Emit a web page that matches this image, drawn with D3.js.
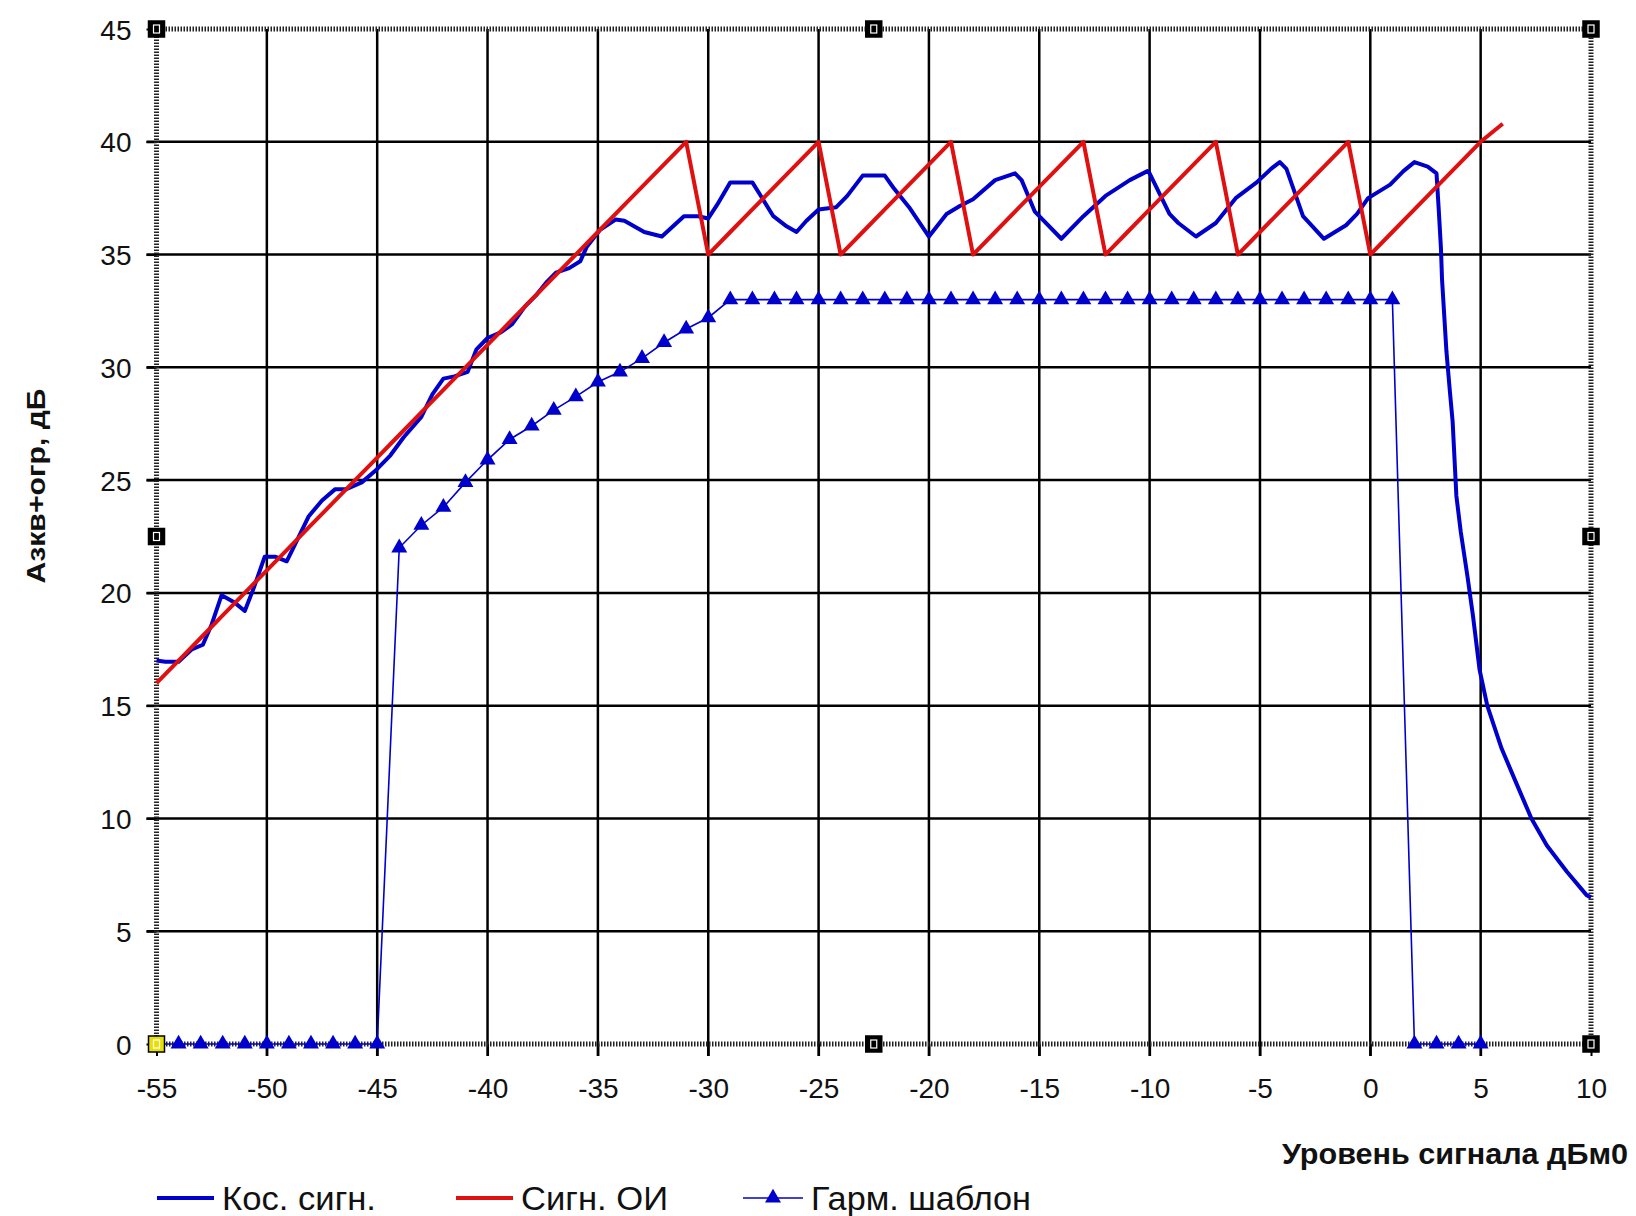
<!DOCTYPE html>
<html>
<head>
<meta charset="utf-8">
<script src="https://cdn.jsdelivr.net/npm/d3@7"></script>
<style>
  html, body { margin: 0; padding: 0; background: #fff; }
  svg { display: block; }
  text { font-family: "Liberation Sans", Arial, sans-serif; }
</style>
</head>
<body>
<svg id="chart" width="1636" height="1216"></svg>
<script>
// ---------- data ----------
const xTicks = [-55, -50, -45, -40, -35, -30, -25, -20, -15, -10, -5, 0, 5, 10];
const yTicks = [0, 5, 10, 15, 20, 25, 30, 35, 40, 45];

const seriesNames = ["Кос. сигн.", "Сигн. ОИ", "Гарм. шаблон"];
const xTitle = "Уровень сигнала дБм0";
const yTitle = "Азкв+огр, дБ";

// "Кос. сигн." (thick blue)
const kosX = [-55, -54.6, -54, -53.4, -52.9, -52.5, -52.05, -51.5, -51, -50.6, -50.1, -49.6, -49.1, -48.6, -48.1, -47.5, -46.9, -46.4, -45.7, -45.1,
  -44.4, -43.8, -43, -42.5, -42, -41.5, -40.9, -40.5, -40, -39.4, -38.9, -38.3, -37.8, -37.3, -36.9, -36.3, -35.8, -35.5, -34.9, -34.2,
  -33.8, -32.9, -32.1, -31.1, -30.45, -30, -29.6, -29, -28, -27.65, -27.05, -26.45, -26, -25.55, -25, -24.2, -23.7, -23, -22, -21.6,
  -20.9, -20, -19.2, -18.6, -18, -17, -16.1, -15.8, -15.2, -14, -13, -12, -10.9, -10.1, -10, -9.1, -8.7, -7.9, -7, -6.1,
  -5.15, -4.5, -4.1, -3.8, -3.05, -2.1, -1.1, -0.6, -0.1, 0.9, 1.5, 2, 2.6, 3, 3.1, 3.2, 3.25, 3.45, 3.6, 3.73,
  3.9, 4.1, 4.4, 4.65, 4.95, 5.3, 5.95, 6.6, 7.3, 8, 8.9, 9.8, 10];
const kosY = [17.0, 16.95, 16.95, 17.5, 17.7, 18.6, 19.9, 19.6, 19.2, 20.2, 21.6, 21.6, 21.4, 22.4, 23.4, 24.1, 24.6, 24.6, 24.9, 25.4,
  26.1, 26.9, 27.8, 28.8, 29.5, 29.6, 29.8, 30.8, 31.3, 31.55, 31.9, 32.7, 33.2, 33.8, 34.2, 34.4, 34.7, 35.35, 36.1, 36.55,
  36.5, 36.0, 35.8, 36.7, 36.7, 36.6, 37.2, 38.2, 38.2, 37.65, 36.7, 36.25, 36.0, 36.5, 37.0, 37.1, 37.6, 38.5, 38.5, 37.95,
  37.1, 35.8, 36.8, 37.15, 37.45, 38.3, 38.6, 38.3, 36.9, 35.7, 36.7, 37.6, 38.3, 38.7, 38.6, 36.8, 36.4, 35.8, 36.4, 37.5,
  38.2, 38.8, 39.1, 38.8, 36.7, 35.7, 36.3, 36.8, 37.5, 38.1, 38.7, 39.1, 38.9, 38.6, 37.0, 35.3, 33.9, 30.7, 29.0, 27.6,
  24.3, 22.7, 20.75, 19.0, 16.6, 15.0, 13.1, 11.6, 10.0, 8.8, 7.65, 6.6, 6.5];

// "Сигн. ОИ" (red sawtooth)
const oiX = [-55, -54, -53, -52, -51, -50, -49, -48, -47, -46, -45, -44, -43, -42, -41, -40, -39, -38, -37, -36, -35, -34, -33, -32, -31,
  -30, -29, -28, -27, -26, -25, -24, -23, -22, -21, -20, -19, -18, -17, -16, -15, -14, -13, -12, -11, -10, -9, -8, -7,
  -6, -5, -4, -3, -2, -1, 0, 1, 2, 3, 4, 5, 6];
const oiY = [16, 17, 18, 19, 20, 21, 22, 23, 24, 25, 26, 27, 28, 29, 30, 31, 32, 33, 34, 35, 36, 37, 38, 39, 40,
  35, 36, 37, 38, 39, 40, 35, 36, 37, 38, 39, 40, 35, 36, 37, 38, 39, 40, 35, 36, 37, 38, 39, 40,
  35, 36, 37, 38, 39, 40, 35, 36, 37, 38, 39, 40, 40.8];

// "Гарм. шаблон" (thin blue with triangles)
const harmX = [-55, -54, -53, -52, -51, -50, -49, -48, -47, -46, -45, -44, -43, -42, -41, -40, -39, -38, -37, -36, -35, -34, -33, -32, -31, -30,
  -29, -28, -27, -26, -25, -24, -23, -22, -21, -20, -19, -18, -17, -16, -15, -14, -13, -12, -11, -10, -9, -8, -7, -6, -5, -4, -3, -2, -1, 0, 1,
  2, 3, 4, 5];
const harmY = [0, 0, 0, 0, 0, 0, 0, 0, 0, 0, 0, 22, 23, 23.8, 24.9, 25.9, 26.8, 27.4, 28.1, 28.7, 29.35, 29.8, 30.4, 31.1, 31.7, 32.2,
  33, 33, 33, 33, 33, 33, 33, 33, 33, 33, 33, 33, 33, 33, 33, 33, 33, 33, 33, 33, 33, 33, 33, 33, 33, 33, 33, 33, 33, 33, 33,
  0, 0, 0, 0];

// ---------- layout ----------
const L = 156.5, R = 1591, T = 29, B = 1044;
const BLUE = "#0000cc", RED = "#e01010";

const svg = d3.select("#chart");
const x = d3.scaleLinear().domain([-55, 10]).range([L, R]);
const y = d3.scaleLinear().domain([0, 45]).range([B, T]);

// grid
const grid = svg.append("g");
grid.selectAll("line.vx").data(xTicks.filter(d => d > -55 && d < 10)).enter().append("line")
  .attr("x1", d => x(d)).attr("x2", d => x(d)).attr("y1", T).attr("y2", B + 12)
  .attr("stroke", "#000").attr("stroke-width", 2.5);
grid.selectAll("line.hy").data(yTicks.filter(d => d > 0 && d < 45)).enter().append("line")
  .attr("x1", L - 10).attr("x2", R).attr("y1", d => y(d)).attr("y2", d => y(d))
  .attr("stroke", "#000").attr("stroke-width", 2.5);

// axes (ticks on frame edges)
const fmt = d => String(d);
const yAxis = d3.axisLeft(y).tickValues(yTicks).tickSize(10).tickPadding(15).tickFormat(fmt);
const gy = svg.append("g").attr("transform", `translate(${L},0)`).call(yAxis);
gy.select(".domain").remove();
gy.selectAll("line").attr("stroke", "#000").attr("stroke-width", 2);
gy.selectAll("text").attr("font-size", 28).attr("fill", "#111").attr("dy", "0.36em");

const xAxis = d3.axisBottom(x).tickValues(xTicks).tickSize(12).tickPadding(22).tickFormat(fmt);
const gx = svg.append("g").attr("transform", `translate(0,${B})`).call(xAxis);
gx.select(".domain").remove();
gx.selectAll("line").attr("stroke", "#000").attr("stroke-width", 2);
gx.selectAll("text").attr("font-size", 28).attr("fill", "#111");

// hatched frame
svg.append("rect").attr("x", L).attr("y", T).attr("width", R - L).attr("height", B - T)
  .attr("fill", "none").attr("stroke", "#222").attr("stroke-width", 5)
  .attr("stroke-dasharray", "1.5 1.5");

// series
const line = d3.line().x(d => x(d[0])).y(d => y(d[1]));
const kos = kosX.map((v, i) => [v, kosY[i]]);
const oi = oiX.map((v, i) => [v, oiY[i]]);
const harm = harmX.map((v, i) => [v, harmY[i]]);

svg.append("path").attr("d", line(harm)).attr("fill", "none").attr("stroke", BLUE).attr("stroke-width", 1.6);
svg.selectAll("path.tri").data(harm).enter().append("path")
  .attr("d", d3.symbol().type(d3.symbolTriangle).size(110))
  .attr("transform", d => `translate(${x(d[0])},${y(d[1])})`)
  .attr("fill", BLUE);
svg.append("path").attr("d", line(kos)).attr("fill", "none").attr("stroke", BLUE)
  .attr("stroke-width", 4).attr("stroke-linejoin", "round");
svg.append("path").attr("d", line(oi)).attr("fill", "none").attr("stroke", RED)
  .attr("stroke-width", 4).attr("stroke-linejoin", "round");

// selection handles
const handles = [[L, T], [(L + R) / 2, T], [R, T], [L, (T + B) / 2], [R, (T + B) / 2], [L, B], [(L + R) / 2, B], [R, B]];
svg.selectAll("rect.h").data(handles).enter().append("rect")
  .attr("x", d => d[0] - 8).attr("y", d => d[1] - 8).attr("width", 16).attr("height", 16)
  .attr("fill", (d, i) => i === 5 ? "#e8e000" : "#000").attr("stroke", "#000").attr("stroke-width", 1.5);
svg.selectAll("rect.hi").data(handles).enter().append("rect")
  .attr("x", d => d[0] - 3).attr("y", d => d[1] - 4).attr("width", 6).attr("height", 8)
  .attr("fill", "none").attr("stroke", "#fff").attr("stroke-width", 1.2);

// axis titles
svg.append("text").attr("x", 1628).attr("y", 1164).attr("text-anchor", "end")
  .attr("font-size", 30).attr("font-weight", "bold").attr("fill", "#111")
  .attr("textLength", 346).attr("lengthAdjust", "spacingAndGlyphs").text(xTitle);
svg.append("text").attr("transform", "translate(45,486) rotate(-90)").attr("text-anchor", "middle")
  .attr("font-size", 26).attr("font-weight", "bold").attr("fill", "#111")
  .attr("textLength", 195).attr("lengthAdjust", "spacingAndGlyphs").text(yTitle);

// legend
const legend = [
  { name: seriesNames[0], color: BLUE, x0: 157, x1: 214, tx: 222, tl: 154, w: 4, marker: false },
  { name: seriesNames[1], color: RED, x0: 456, x1: 513, tx: 521, tl: 147, w: 4, marker: false },
  { name: seriesNames[2], color: BLUE, x0: 743, x1: 803, tx: 811, tl: 220, w: 1.6, marker: true }
];
const lg = svg.append("g");
legend.forEach(d => {
  lg.append("line").attr("x1", d.x0).attr("x2", d.x1).attr("y1", 1198).attr("y2", 1198)
    .attr("stroke", d.color).attr("stroke-width", d.w);
  if (d.marker) {
    lg.append("path").attr("d", d3.symbol().type(d3.symbolTriangle).size(110)())
      .attr("transform", `translate(${(d.x0 + d.x1) / 2},1198)`).attr("fill", d.color);
  }
  lg.append("text").attr("x", d.tx).attr("y", 1210).attr("font-size", 33).attr("fill", "#111")
    .attr("textLength", d.tl).attr("lengthAdjust", "spacingAndGlyphs").text(d.name);
});
</script>
</body>
</html>
